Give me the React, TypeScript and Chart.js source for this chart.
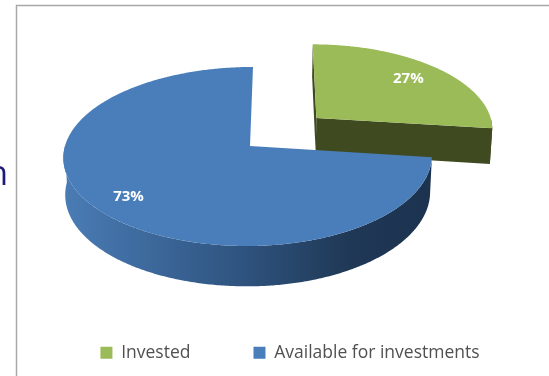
import React, { useEffect, useRef } from "react";
import { Chart, registerables } from "chart.js";

Chart.register(...registerables);

const categories = ["Invested", "Available for investments"];
const shares = [27, 73];
const sliceColors = ["#9bbb59", "#4a7ebb"];
const wallColors = ["#3f4a20", "#1f3855"];
const explodeOffsets = [40, 0];
const labelRadii = [0.76, 0.81];

// Perspective used to lay the flat disc down as a thick tilted pie.
const ORIGIN_X = 250;
const ORIGIN_Y = 146;
const SCALE_X_RIGHT = 181;
const SCALE_X_LEFT = 185;
const SCALE_Y = 88.3;
const TILT = 0.117;
const SHEAR = -3;
const THICKNESS = 36.5;
const BASE_SCALE = 0.99;
const LEGEND_TOP = 281;

type Pt = [number, number];

function project(u: number, v: number, base = false): Pt {
  const w = 1 - TILT * v;
  const s = base ? BASE_SCALE : 1;
  const sx = u < 0 ? SCALE_X_LEFT : SCALE_X_RIGHT;
  return [
    ORIGIN_X + (s * sx * u) / w + SHEAR * v,
    ORIGIN_Y + (s * SCALE_Y * v) / w + (base ? THICKNESS / w : 0),
  ];
}

function trace(ctx: CanvasRenderingContext2D, pts: Pt[]) {
  ctx.beginPath();
  pts.forEach((p, i) => (i ? ctx.lineTo(p[0], p[1]) : ctx.moveTo(p[0], p[1])));
  ctx.closePath();
}

function rimPoints(cu: number, cv: number, from: number, to: number, base = false): Pt[] {
  const steps = Math.max(2, Math.ceil(Math.abs(to - from) / 0.01));
  const pts: Pt[] = [];
  for (let i = 0; i <= steps; i++) {
    const t = from + ((to - from) * i) / steps;
    pts.push(project(cu + Math.sin(t), cv - Math.cos(t), base));
  }
  return pts;
}

function radialFace(ctx: CanvasRenderingContext2D, cu: number, cv: number, angle: number) {
  const u = cu + Math.sin(angle);
  const v = cv - Math.cos(angle);
  trace(ctx, [project(cu, cv), project(u, v), project(u, v, true), project(cu, cv, true)]);
  ctx.fill();
}

const pie3d = {
  id: "pie3d",
  afterLayout(chart: any) {
    // The legend row sits on its own line near the foot of the slide.
    const legend = chart.legend;
    const h = legend.bottom - legend.top;
    legend.top = LEGEND_TOP;
    legend.bottom = LEGEND_TOP + h;
  },
  beforeDatasetDraw(chart: any) {
    const ctx: CanvasRenderingContext2D = chart.ctx;
    const arcs = chart.getDatasetMeta(0).data;

    ctx.save();
    arcs.forEach((arc: any, i: number) => {
      const a0 = arc.startAngle + Math.PI / 2;
      const a1 = arc.endAngle + Math.PI / 2;
      const mid = (a0 + a1) / 2;
      const d = (arc.options.offset || 0) / arc.outerRadius;
      const cu = d * Math.sin(mid);
      const cv = -d * Math.cos(mid);

      // Radial faces of an exploded slice turn towards the viewer.
      if (d > 0) {
        ctx.fillStyle = wallColors[i];
        radialFace(ctx, cu, cv, a0);
        radialFace(ctx, cu, cv, a1);
      }

      // Outer wall, limited to the front half of the rim.
      const w0 = Math.max(a0, Math.PI / 2);
      const w1 = Math.min(a1, (Math.PI * 3) / 2);
      if (w1 > w0) {
        const grad = ctx.createLinearGradient(63, 0, 431, 0);
        if (i === 1) {
          grad.addColorStop(0, "#4a7cb5");
          grad.addColorStop(0.48, "#2f5480");
          grad.addColorStop(0.78, "#1f3855");
          grad.addColorStop(1, "#1c3350");
        } else {
          grad.addColorStop(0, wallColors[i]);
          grad.addColorStop(1, wallColors[i]);
        }
        ctx.fillStyle = grad;
        trace(ctx, [...rimPoints(cu, cv, w0, w1), ...rimPoints(cu, cv, w1, w0, true)]);
        ctx.fill();
      }

      // Top face.
      ctx.fillStyle = arc.options.backgroundColor;
      trace(ctx, [project(cu, cv), ...rimPoints(cu, cv, a0, a1)]);
      ctx.fill();
    });

    // Percentage labels.
    ctx.fillStyle = "#ffffff";
    ctx.font = "bold 15px 'Open Sans'";
    ctx.textAlign = "center";
    ctx.textBaseline = "middle";
    arcs.forEach((arc: any, i: number) => {
      const mid = (arc.startAngle + arc.endAngle) / 2 + Math.PI / 2;
      const d = (arc.options.offset || 0) / arc.outerRadius;
      const r = d + labelRadii[i];
      const [x, y] = project(r * Math.sin(mid), -r * Math.cos(mid));
      ctx.fillText(`${shares[i]}%`, x, y);
    });
    ctx.restore();
    return false;
  },
  beforeDraw(chart: any) {
    const ctx: CanvasRenderingContext2D = chart.ctx;
    ctx.save();
    ctx.fillStyle = "#ffffff";
    ctx.fillRect(0, 0, chart.width, chart.height);

    // Slide frame around the chart.
    ctx.strokeStyle = "#a8a8a8";
    ctx.lineWidth = 1.5;
    ctx.beginPath();
    ctx.moveTo(16.5, chart.height);
    ctx.lineTo(16.5, 5.5);
    ctx.lineTo(chart.width, 5.5);
    ctx.stroke();

    // Last letter of the slide text running behind the frame.
    ctx.fillStyle = "#1e1b78";
    ctx.font = "34px 'Open Sans'";
    ctx.textAlign = "right";
    ctx.textBaseline = "alphabetic";
    ctx.fillText("n", 8, 185);
    ctx.restore();
  },
};

export default function App() {
  const ref = useRef<HTMLCanvasElement>(null);

  useEffect(() => {
    document.body.style.margin = "0";
    const chart = new Chart(ref.current!, {
      type: "pie",
      data: {
        labels: categories,
        datasets: [
          {
            data: shares,
            backgroundColor: sliceColors,
            borderWidth: 0,
            offset: explodeOffsets,
            radius: 80,
          },
        ],
      },
      options: {
        responsive: false,
        animation: false,
        layout: { padding: { left: 31 } },
        plugins: {
          tooltip: { enabled: false },
          legend: {
            position: "bottom",
            labels: {
              boxWidth: 12,
              boxHeight: 12,
              padding: 63,
              color: "#505050",
              font: { family: "'Open Sans'", size: 17.5 },
            },
          },
        },
      },
      plugins: [pie3d],
    } as any);
    return () => chart.destroy();
  }, []);

  return <canvas ref={ref} width={549} height={376} style={{ display: "block" }} />;
}
